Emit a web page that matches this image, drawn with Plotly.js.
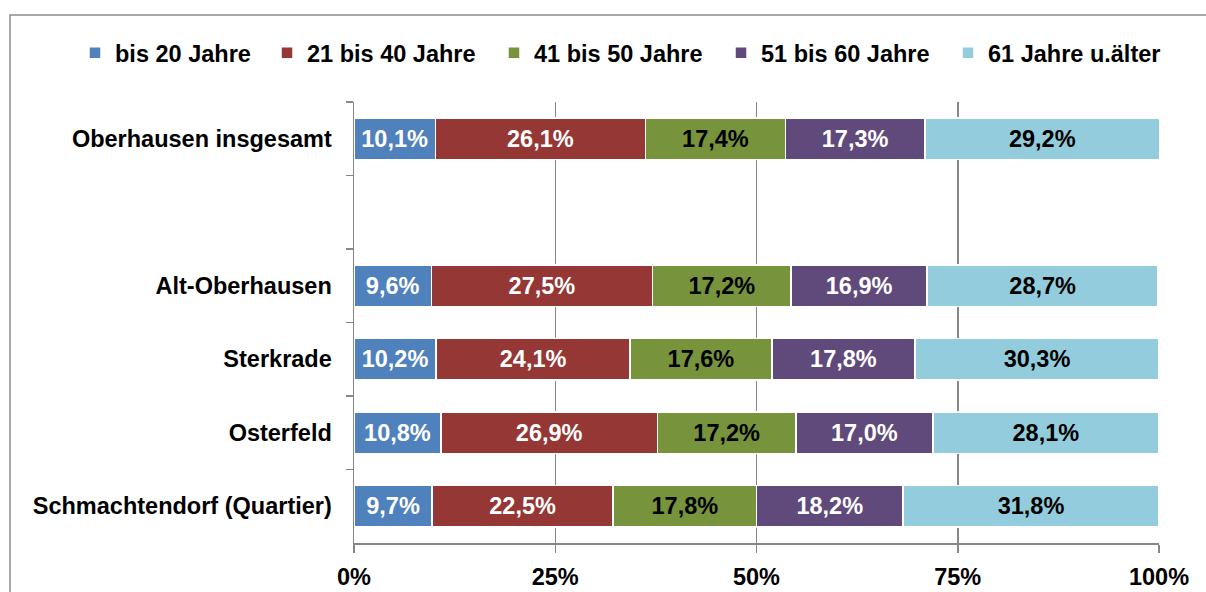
<!DOCTYPE html>
<html>
<head>
<meta charset="utf-8">
<script src="https://cdn.plot.ly/plotly-3.0.1.min.js"></script>
<style>html,body{margin:0;padding:0;background:#fff;}#chart{width:1206px;height:592px;}</style>
</head>
<body>
<div id="chart"></div>
<script>
// Categories (top to bottom); the blank entry is the empty slot in the chart
const categories = ["Oberhausen insgesamt", "\u00a0", "Alt-Oberhausen", "Sterkrade", "Osterfeld", "Schmachtendorf (Quartier)"];

const seriesNames = ["bis 20 Jahre", "21 bis 40 Jahre", "41 bis 50 Jahre", "51 bis 60 Jahre", "61 Jahre u.älter"];

const bis20    = [10.1, null,  9.6, 10.2, 10.8,  9.7];
const bis40    = [26.1, null, 27.5, 24.1, 26.9, 22.5];
const bis50    = [17.4, null, 17.2, 17.6, 17.2, 17.8];
const bis60    = [17.3, null, 16.9, 17.8, 17.0, 18.2];
const ab61     = [29.2, null, 28.7, 30.3, 28.1, 31.8];

const xTickVals  = [0, 25, 50, 75, 100];
const xTickText  = ["0%", "25%", "50%", "75%", "100%"];

const seriesValues = [bis20, bis40, bis50, bis60, ab61];
const colors     = ["#4F81BD", "#953735", "#77933C", "#604A7B", "#93CDDD"];
const textColors = ["#FFFFFF", "#FFFFFF", "#000000", "#FFFFFF", "#000000"];

const FONT = "Liberation Sans, Arial, Helvetica, sans-serif";
const FS = 23.5;

// legend text start positions (px) for each entry, one legend per entry
const legendTextX = [111, 303, 530, 757, 984];
const legendIds = ["legend", "legend2", "legend3", "legend4", "legend5"];

const traces = seriesValues.map((vals, i) => ({
  type: "bar",
  orientation: "h",
  name: seriesNames[i],
  legend: legendIds[i],
  y: categories,
  x: vals,
  marker: { color: colors[i], line: { color: "#FFFFFF", width: 1.5 } },
  texttemplate: "%{x:.1f}%",
  textposition: "inside",
  insidetextanchor: "middle",
  constraintext: "none",
  textfont: { family: FONT, size: FS, color: textColors[i], weight: "bold" },
  hoverinfo: "name+x"
}));

// plot area in pixels: x 354..1159, y 102..543
const L = 354, R = 1206 - 1159, T = 102, B = 592 - 543;
const pw = 1206 - L - R, ph = 592 - T - B;

const layout = {
  width: 1206,
  height: 592,
  margin: { l: L, r: R, t: T, b: B, pad: 0 },
  paper_bgcolor: "#FFFFFF",
  plot_bgcolor: "#FFFFFF",
  separators: ",.",
  barmode: "stack",
  bargap: 0.43,
  font: { family: FONT, size: FS, color: "#000000", weight: "bold" },
  showlegend: true,
  xaxis: {
    range: [0, 100],
    tickmode: "array",
    tickvals: xTickVals,
    ticktext: xTickText,
    showgrid: true,
    gridcolor: "#878787",
    gridwidth: 1.5,
    zeroline: false,
    showline: true,
    linecolor: "#878787",
    linewidth: 1.5,
    ticks: "outside",
    ticklen: 8,
    tickwidth: 1.5,
    tickcolor: "#878787",
    ticklabelstandoff: 4,
    tickfont: { family: FONT, size: FS, color: "#000000", weight: "bold" },
    fixedrange: true
  },
  yaxis: {
    type: "category",
    categoryorder: "array",
    categoryarray: categories,
    autorange: "reversed",
    tickson: "boundaries",
    showgrid: false,
    zeroline: false,
    showline: true,
    linecolor: "#878787",
    linewidth: 1.5,
    ticks: "outside",
    ticklen: 7,
    tickwidth: 1.5,
    tickcolor: "#878787",
    ticklabelstandoff: 16,
    tickfont: { family: FONT, size: FS, color: "#000000", weight: "bold" },
    fixedrange: true
  },
  shapes: [{
    type: "rect",
    xref: "paper", yref: "paper",
    x0: (10 - L) / pw, x1: (1230 - L) / pw,
    y0: (543 - 600) / ph, y1: (543 - 15) / ph,
    line: { color: "#8C8C8C", width: 1.5 },
    fillcolor: "rgba(0,0,0,0)",
    layer: "below"
  }]
};

legendIds.forEach((id, i) => {
  layout[id] = {
    orientation: "h",
    xref: "container", yref: "container",
    x: (legendTextX[i] - 36) / 1206, xanchor: "left",
    y: 1 - 53 / 592, yanchor: "middle",
    font: { family: FONT, size: FS, color: "#000000", weight: "bold" },
    bgcolor: "rgba(0,0,0,0)",
    borderwidth: 0
  };
});

Plotly.newPlot("chart", traces, layout, { displayModeBar: false, staticPlot: true });
</script>
</body>
</html>
